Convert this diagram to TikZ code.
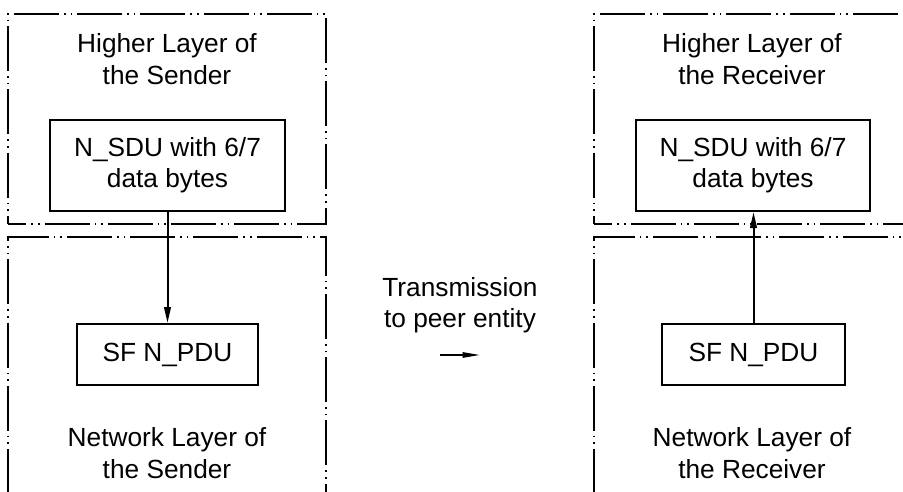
\documentclass[tikz,border=0pt]{standalone}
\usepackage{fontspec}
\setmainfont{Liberation Sans}
\usetikzlibrary{arrows.meta}

\tikzset{
  layerbox/.style={draw, line width=1.6pt, dash pattern=on 33.75pt off 3.75pt on 1.2pt off 3.75pt on 1.2pt off 3.75pt,
    dash phase=20pt, minimum width=238.5pt, inner sep=0pt},
  unitbox/.style={draw, line width=1.5pt, align=center, inner sep=0pt},
  layertext/.style={align=center, inner sep=0pt},
  flow/.style={line width=1.5pt, -{Triangle[length=12pt,width=5pt]}},
  peerflow/.style={line width=1.2pt, -{Triangle[length=13pt,width=4pt]}}
}

\begin{document}
\begin{tikzpicture}[x=0.75pt, y=-0.75pt, font=\fontsize{19.7}{23.5}\selectfont]

    \useasboundingbox (0,0) rectangle (903,492);

        \node[layerbox, minimum height=157.5pt] (hs) at (167,119) {};
        \node[layerbox, minimum height=197.25pt] (ns) at (167,368.5) {};
        \node[layerbox, minimum height=157.5pt] (hr) at (753,119) {};
        \node[layerbox, minimum height=197.25pt] (nr) at (753,368.5) {};

        \node[layertext] (ths) at (167,59) {Higher Layer of\\the Sender};
        \node[layertext] (tns) at (167,453) {Network Layer of\\the Sender};
        \node[layertext] (thr) at (752,59) {Higher Layer of\\the Receiver};
        \node[layertext] (tnr) at (752,453) {Network Layer of\\the Receiver};

        \node[unitbox, minimum width=176.25pt, minimum height=68.25pt] (sdus) at (167.5,165.5) {N\_SDU with 6/7\\data bytes};
        \node[unitbox, minimum width=135.75pt, minimum height=45.75pt] (pdus) at (167.5,354.5) {SF N\_PDU};
        \node[unitbox, minimum width=175.5pt, minimum height=68.25pt] (sdur) at (753,165.5) {N\_SDU with 6/7\\data bytes};
        \node[unitbox, minimum width=137.25pt, minimum height=45.75pt] (pdur) at (753.5,354.5) {SF N\_PDU};

        \node[layertext] (trans) at (460,305) {Transmission\\to peer entity};
        \coordinate (ta) at (440,355);
        \coordinate (tb) at (480,355);

        \draw[flow] (sdus.south) -- (pdus.north);
        \draw[flow] (pdur.north) -- (pdur.north |- sdur.south);
        \draw[peerflow] (ta) -- (tb);

        \end{tikzpicture}
\end{document}
